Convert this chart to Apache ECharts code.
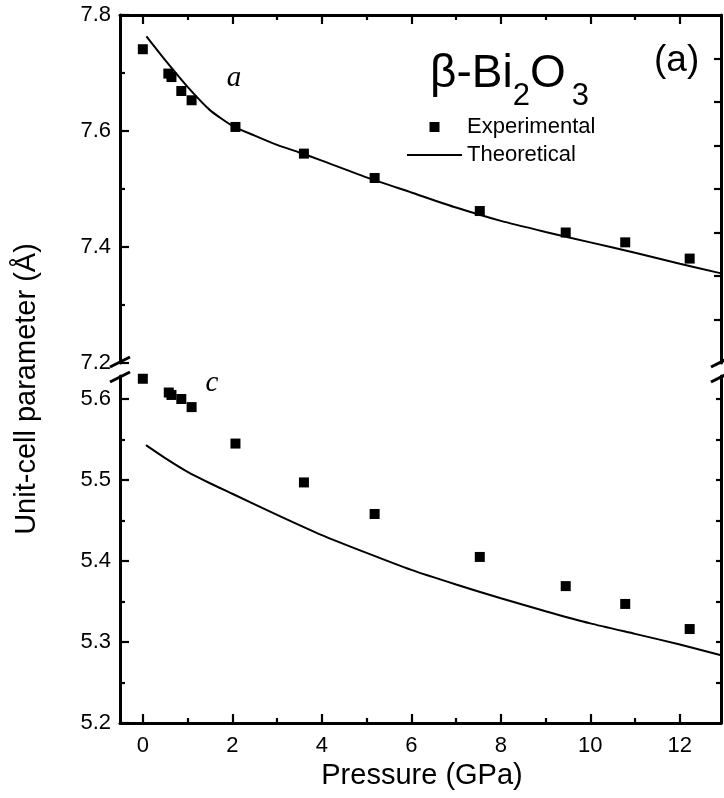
<!DOCTYPE html>
<html><head><meta charset="utf-8">
<script src="https://cdn.jsdelivr.net/npm/echarts@6/dist/echarts.min.js"></script>
<style>html,body{margin:0;padding:0;background:#fff}#c{width:724px;height:798px}</style>
</head><body><div id="c"></div>
<script>
// ---- data ----
const pressureExpA = [0, 0.57, 0.64, 0.86, 1.09, 2.07, 3.60, 5.18, 7.53, 9.45, 10.78, 12.22];
const latticeExpA  = [7.741, 7.699, 7.693, 7.669, 7.653, 7.607, 7.561, 7.519, 7.462, 7.425, 7.408, 7.380];
const pressureExpC = [0, 0.58, 0.64, 0.86, 1.09, 2.07, 3.60, 5.18, 7.53, 9.45, 10.78, 12.22];
const latticeExpC  = [5.625, 5.608, 5.605, 5.600, 5.590, 5.545, 5.497, 5.458, 5.405, 5.369, 5.347, 5.316];
const pressureTheoA = [0.08, 0.5, 1.0, 1.5, 2.0, 2.5, 3.0, 3.5, 4.0, 5.0, 6.0, 7.0, 8.0, 9.0, 10.0, 11.0, 12.0, 12.9];
const latticeTheoA  = [7.763, 7.722, 7.676, 7.636, 7.609, 7.592, 7.576, 7.563, 7.549, 7.520, 7.494, 7.468, 7.445, 7.426, 7.408, 7.390, 7.371, 7.355];
const pressureTheoC = [0.07, 0.5, 1.0, 1.5, 2.0, 3.0, 4.0, 5.0, 6.0, 7.0, 8.0, 9.0, 10.0, 11.0, 12.0, 12.9];
const latticeTheoC  = [5.543, 5.527, 5.510, 5.496, 5.483, 5.457, 5.432, 5.410, 5.389, 5.371, 5.354, 5.338, 5.323, 5.310, 5.297, 5.284];
// ticks
const xMajor = [0, 2, 4, 6, 8, 10, 12];
const xMinor = [1, 3, 5, 7, 9, 11];
const yUpMajor = [7.2, 7.4, 7.6, 7.8];
const yUpMinor = [7.3, 7.5, 7.7];
const yUpRight = [7.275, 7.35, 7.425, 7.5, 7.575, 7.65, 7.725];
const yLoMajor = [5.2, 5.3, 5.4, 5.5, 5.6];
const yLoMinor = [5.25, 5.35, 5.45, 5.55];
const yLoRight = [5.25, 5.3, 5.35, 5.4, 5.45, 5.5, 5.55, 5.6];

const FONT = '"Liberation Sans", Arial, sans-serif';
const X_MIN = -0.51, X_MAX = 12.92;
const UP_MIN = 7.2, UP_MAX = 7.8, LO_MIN = 5.2, LO_MAX = 5.6284;
const AX = {color: '#000', width: 3};
const TK = {color: '#000', width: 2.2};

function xAxis(grid, pos, vals, len, line, labels) {
  return {
    type: 'value', gridIndex: grid, position: pos, min: X_MIN, max: X_MAX,
    axisLine: {show: line, onZero: false, lineStyle: Object.assign({}, AX)},
    axisTick: {show: true, inside: true, length: len, customValues: vals, lineStyle: Object.assign({}, TK)},
    axisLabel: labels ? {show: true, customValues: xMajor, margin: 12, color: '#000', fontFamily: FONT, fontSize: 22,
      formatter: v => String(Math.round(v))} : {show: false},
    splitLine: {show: false}
  };
}
function yAxis(grid, pos, min, max, vals, len, line, labelVals) {
  return {
    type: 'value', gridIndex: grid, position: pos, min: min, max: max,
    axisLine: {show: line, onZero: false, lineStyle: Object.assign({}, AX)},
    axisTick: {show: true, inside: true, length: len, customValues: vals, lineStyle: Object.assign({}, TK)},
    axisLabel: labelVals ? {show: true, customValues: labelVals, margin: 9, color: '#000', fontFamily: FONT, fontSize: 22,
      formatter: v => v.toFixed(1)} : {show: false},
    splitLine: {show: false}
  };
}

const chart = echarts.init(document.getElementById('c'), null, {renderer: 'canvas'});
const zip = (a, b) => a.map((v, i) => [v, b[i]]);

const option = {
  animation: false,
  backgroundColor: '#fff',
  grid: [
    {left: 120, top: 15, width: 601, height: 348},
    {left: 120, top: 376, width: 601, height: 347}
  ],
  xAxis: [
    xAxis(0, 'top', xMajor, 9, true, false),
    xAxis(0, 'top', xMinor, 5, false, false),
    xAxis(1, 'bottom', xMajor, 9, true, true),
    xAxis(1, 'bottom', xMinor, 5, false, false)
  ],
  yAxis: [
    yAxis(0, 'left', UP_MIN, UP_MAX, yUpMajor, 9, true, yUpMajor),
    yAxis(0, 'left', UP_MIN, UP_MAX, yUpMinor, 5, false, null),
    yAxis(0, 'right', UP_MIN, UP_MAX, yUpRight, 7, true, null),
    yAxis(1, 'left', LO_MIN, LO_MAX, yLoMajor, 9, true, yLoMajor),
    yAxis(1, 'left', LO_MIN, LO_MAX, yLoMinor, 5, false, null),
    yAxis(1, 'right', LO_MIN, LO_MAX, yLoRight, 5, true, null)
  ],
  legend: {
    left: 407, top: 116, padding: 0, orient: 'vertical', itemWidth: 55, itemHeight: 10, itemGap: 6,
    symbolKeepAspect: true,
    data: [
      {name: 'Experimental', icon: 'path://M0,0h10v10h-10z'},
      {name: 'Theoretical', icon: 'path://M0,0h55v2h-55z'}
    ],
    itemStyle: {color: '#000', borderWidth: 0},
    lineStyle: {width: 0},
    textStyle: {fontFamily: FONT, fontSize: 22, color: '#000', lineHeight: 22}
  },
  series: [
    {name: 'Theoretical', type: 'line', xAxisIndex: 0, yAxisIndex: 0, data: zip(pressureTheoA, latticeTheoA),
      symbol: 'none', smooth: 0.2, lineStyle: {color: '#000', width: 2}, itemStyle: {color: '#000'}},
    {name: 'Experimental', type: 'scatter', xAxisIndex: 0, yAxisIndex: 0, data: zip(pressureExpA, latticeExpA),
      symbol: 'rect', symbolSize: 10, itemStyle: {color: '#000', opacity: 1}},
    {name: 'Theoretical', type: 'line', xAxisIndex: 2, yAxisIndex: 3, data: zip(pressureTheoC, latticeTheoC),
      symbol: 'none', smooth: 0.2, lineStyle: {color: '#000', width: 2}, itemStyle: {color: '#000'}},
    {name: 'Experimental', type: 'scatter', xAxisIndex: 2, yAxisIndex: 3, data: zip(pressureExpC, latticeExpC),
      symbol: 'rect', symbolSize: 10, itemStyle: {color: '#000', opacity: 1}}
  ]
};
chart.setOption(option);

// ---- annotations ----
const ctx = document.createElement('canvas').getContext('2d');
function tw(t, f) { ctx.font = f; return ctx.measureText(t).width; }
const bigF = '46px "Liberation Sans", Arial, sans-serif';
const subF = '31px "Liberation Sans", Arial, sans-serif';
let tx = 430;
const gfx = [];
function txt(t, x, y, font, align) {
  return {type: 'text', x: x, y: y, silent: true,
    style: {text: t, font: font, fill: '#000', textAlign: align || 'left', textVerticalAlign: 'middle'}};
}
gfx.push(txt('β-Bi', tx, 74, bigF)); tx += tw('β-Bi', bigF);
gfx.push(txt('2', tx, 96, subF)); tx += tw('2', subF);
gfx.push(txt('O', tx, 74, bigF)); tx += tw('O', bigF) + 6;
gfx.push(txt('3', tx, 96, subF));
gfx.push(txt('(a)', 654, 61, '37px "Liberation Sans", Arial, sans-serif'));
gfx.push(txt('a', 234, 78, 'italic 29px "Liberation Serif", "Times New Roman", serif', 'center'));
gfx.push(txt('c', 212, 383, 'italic 29px "Liberation Serif", "Times New Roman", serif', 'center'));
gfx.push(txt('Pressure (GPa)', 422, 776, '29px "Liberation Sans", Arial, sans-serif', 'center'));
const yt = txt('Unit-cell parameter (Å)', 27, 389, '29px "Liberation Sans", Arial, sans-serif', 'center');
yt.rotation = Math.PI / 2;
gfx.push(yt);

// axis-break marks, positioned from the axes
const upBottom = chart.convertToPixel({yAxisIndex: 0}, UP_MIN);
const loTop = chart.convertToPixel({yAxisIndex: 3}, LO_MAX);
const xl = chart.convertToPixel({xAxisIndex: 2}, X_MIN);
const xr = chart.convertToPixel({xAxisIndex: 2}, X_MAX);
[xl, xr].forEach(xx => {
  [upBottom - 1, loTop + 1].forEach(yy => {
    gfx.push({type: 'line', silent: true, shape: {x1: xx - 10, y1: yy + 5, x2: xx + 10, y2: yy - 5},
      style: {stroke: '#000', lineWidth: 3}});
  });
});
chart.setOption({graphic: gfx});
</script>
</body></html>
